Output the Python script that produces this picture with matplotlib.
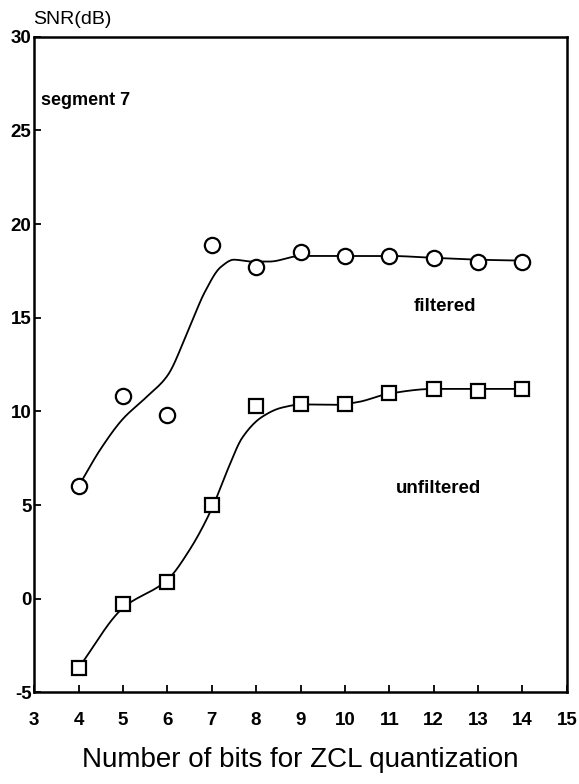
import numpy as np
import matplotlib
matplotlib.use("Agg")
import matplotlib.pyplot as plt

plt.rcParams['font.family'] = ['Liberation Sans', 'DejaVu Sans']
plt.rcParams['axes.unicode_minus'] = False

# measured SNR values per number of bits
bits = [4, 5, 6, 7, 8, 9, 10, 11, 12, 13, 14]
snr_filtered = [6.0, 10.8, 9.8, 18.9, 17.7, 18.5, 18.3, 18.3, 18.2, 18.0, 18.0]
snr_unfiltered = [-3.7, -0.3, 0.9, 5.0, 10.3, 10.4, 10.4, 11.0, 11.2, 11.1, 11.2]

# hand-drawn trend curves (knots along each line)
fit_filtered_x = [4.0, 4.5, 5.0, 5.5, 6.0, 6.5, 6.85, 7.2, 7.5, 7.9, 8.3, 9.0, 10.0, 11.0, 12.0, 13.0, 14.0]
fit_filtered_y = [6.0, 8.0, 9.6, 10.7, 11.9, 14.5, 16.4, 17.7, 18.1, 18.0, 18.0, 18.3, 18.3, 18.3, 18.2, 18.1, 18.05]
fit_unfiltered_x = [4.0, 5.0, 6.0, 6.5, 7.0, 7.37, 7.69, 8.13, 8.58, 9.03, 9.8, 10.3, 11.0, 12.0, 13.0, 14.0]
fit_unfiltered_y = [-3.7, -0.5, 1.0, 2.6, 4.8, 6.95, 8.6, 9.7, 10.2, 10.37, 10.35, 10.5, 10.95, 11.2, 11.2, 11.2]


def pchip(xs, ys, n=400):
    # shape-preserving cubic through the knots
    x = np.asarray(xs, float)
    y = np.asarray(ys, float)
    h = np.diff(x)
    d = np.diff(y) / h
    m = np.zeros_like(y)
    for k in range(1, len(x) - 1):
        if d[k - 1] * d[k] > 0:
            w1 = 2 * h[k] + h[k - 1]
            w2 = h[k] + 2 * h[k - 1]
            m[k] = (w1 + w2) / (w1 / d[k - 1] + w2 / d[k])
    m[0] = d[0]
    m[-1] = d[-1]
    xx = np.linspace(x[0], x[-1], n)
    idx = np.clip(np.searchsorted(x, xx) - 1, 0, len(h) - 1)
    t = (xx - x[idx]) / h[idx]
    h00 = 2 * t ** 3 - 3 * t ** 2 + 1
    h10 = t ** 3 - 2 * t ** 2 + t
    h01 = -2 * t ** 3 + 3 * t ** 2
    h11 = t ** 3 - t ** 2
    yy = h00 * y[idx] + h10 * h[idx] * m[idx] + h01 * y[idx + 1] + h11 * h[idx] * m[idx + 1]
    return xx, yy


fig = plt.figure(figsize=(5.79, 7.84), dpi=100)
ax = fig.add_axes([0.059, 0.117, 0.920, 0.836])

cx, cy = pchip(fit_filtered_x, fit_filtered_y)
ax.plot(cx, cy, color='black', lw=1.3)
cx, cy = pchip(fit_unfiltered_x, fit_unfiltered_y)
ax.plot(cx, cy, color='black', lw=1.3)

ax.plot(bits, snr_filtered, 'o', ms=11, mfc='white', mec='black', mew=1.6)
ax.plot(bits, snr_unfiltered, 's', ms=9.5, mfc='white', mec='black', mew=1.6)

ax.set_xlim(3, 15)
ax.set_ylim(-5, 30)
ax.set_xticks(range(3, 16))
ax.set_yticks(range(-5, 31, 5))
ax.tick_params(direction='in', length=5, width=1.3, labelsize=13.5)
for lab in ax.get_xticklabels() + ax.get_yticklabels():
    lab.set_fontweight('bold')
ax.tick_params(axis='y', pad=2)
ax.tick_params(axis='x', pad=14)
for s in ax.spines.values():
    s.set_linewidth(1.8)

ax.text(-0.002, 1.013, 'SNR(dB)', transform=ax.transAxes, ha='left', va='bottom', fontsize=14)
ax.text(3.15, 26.6, 'segment 7', fontsize=13, fontweight='bold', va='center')
ax.text(12.25, 15.6, 'filtered', fontsize=13.5, fontweight='bold', ha='center', va='center')
ax.text(12.1, 5.9, 'unfiltered', fontsize=13.5, fontweight='bold', ha='center', va='center')

ax.set_xlabel('Number of bits for ZCL quantization', fontsize=20, labelpad=13)

fig.savefig('out.png', dpi=100)
